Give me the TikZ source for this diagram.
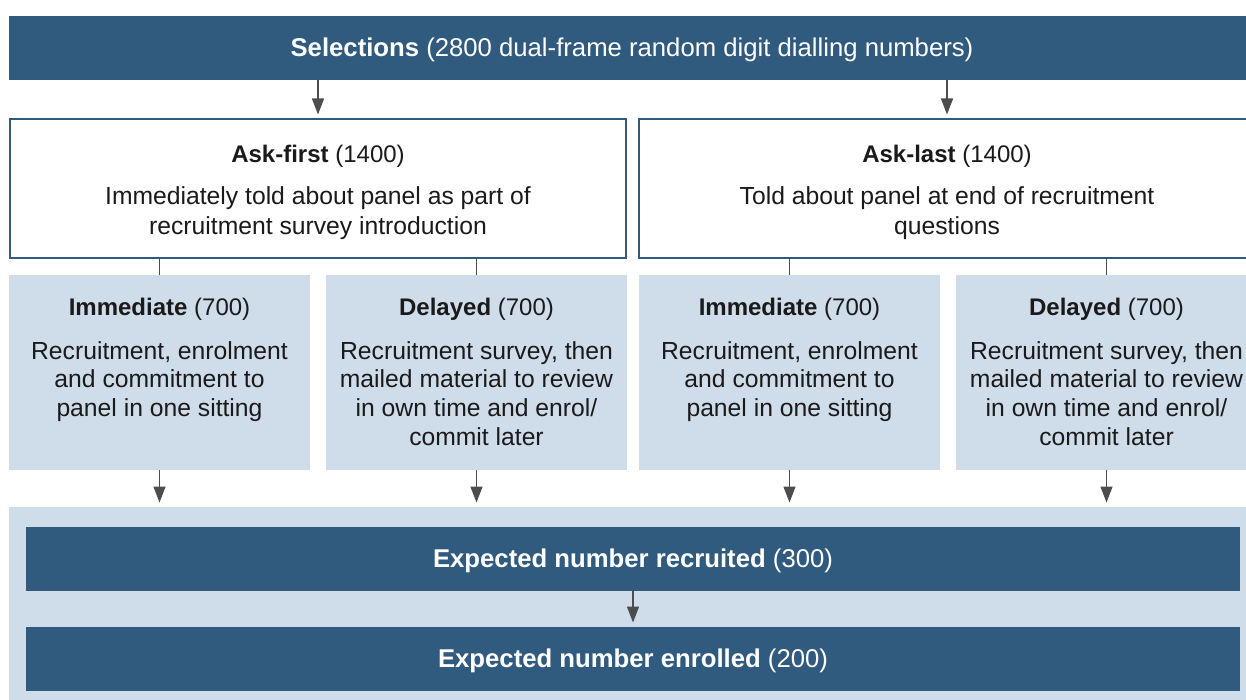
\documentclass[tikz,border=0pt]{standalone}
\usepackage{fontspec}
\setmainfont{Liberation Sans}
\usetikzlibrary{arrows.meta,calc}
\definecolor{dkblue}{HTML}{305A7E}
\definecolor{ltblue}{HTML}{CFDCE9}
\definecolor{arrgray}{HTML}{4D4D4D}
\definecolor{txtcol}{HTML}{1A1A1A}
\tikzset{
  box/.style={anchor=north west, inner sep=0pt, outer sep=0pt},
  darkbar/.style={box, fill=dkblue},
  bartxt/.style={anchor=center, text=white, inner sep=0pt, font=\fontsize{25.7}{30}\selectfont},
  whitebox/.style={box, fill=white, draw=dkblue, line width=2pt},
  lightbox/.style={box, fill=ltblue},
  ttl/.style={anchor=base, align=center, inner sep=0pt, text=txtcol, font=\fontsize{24}{29}\selectfont},
  body/.style={anchor=base, align=center, inner sep=0pt, text=txtcol, font=\fontsize{24.7}{#1}\selectfont},
  conn/.style={draw=arrgray, line width=1.4pt},
  arr/.style={conn, -{Triangle[length=16pt,width=12pt]}, shorten >=4.5pt},
}
\begin{document}
\begin{tikzpicture}[x=1pt,y=-1pt]
\useasboundingbox (0,0) rectangle (1246,700);
\fill[white] (0,0) rectangle (1246,700);
\begin{scope}
\clip (0,0) rectangle (1246,700);
% top bar
\node[darkbar, minimum width=1246pt, minimum height=64pt] (sel) at (9,16) {};
\node[bartxt] (seltxt) at ($(sel.center)+(0,1.5)$) {\textbf{Selections} (2800 dual-frame random digit dialling numbers)};
% ask boxes
\node[whitebox, minimum width=616pt, minimum height=139pt] (af) at (10,119) {};
\node[whitebox, minimum width=616pt, minimum height=139pt] (al) at (639,119) {};
\node[ttl] (aftitle) at ($(af.north)+(0,44)$) {\textbf{Ask-first} (1400)};
\node[body=30] (afbody) at ($(af.north)+(0,116)$) {Immediately told about panel as part of\\recruitment survey introduction};
\node[ttl] (altitle) at ($(al.north)+(0,44)$) {\textbf{Ask-last} (1400)};
\node[body=30] (albody) at ($(al.north)+(0,116)$) {Told about panel at end of recruitment\\questions};
% light boxes
\node[lightbox, minimum width=301pt, minimum height=195pt] (im1) at (9,275) {};
\node[lightbox, minimum width=301pt, minimum height=195pt] (de1) at (326,275) {};
\node[lightbox, minimum width=301pt, minimum height=195pt] (im2) at (639,275) {};
\node[lightbox, minimum width=301pt, minimum height=195pt] (de2) at (956,275) {};
\foreach \b in {im1,im2}{
  \node[ttl] (\b t) at ($(\b.north)+(0,40)$) {\textbf{Immediate} (700)};
  \node[body=28.8] (\b b) at ($(\b.north)+(0,141.6)$) {Recruitment, enrolment\\and commitment to\\panel in one sitting};
}
\foreach \b in {de1,de2}{
  \node[ttl] (\b t) at ($(\b.north)+(0,40)$) {\textbf{Delayed} (700)};
  \node[body=28.8] (\b b) at ($(\b.north)+(0,170.4)$) {Recruitment survey, then\\mailed material to review\\in own time and enrol/\\commit later};
}
% bottom area
\node[lightbox, minimum width=1250pt, minimum height=200pt] (bg) at (9,507) {};
\node[darkbar, minimum width=1214pt, minimum height=64pt] (rec) at (26,527) {};
\node[bartxt] (rectxt) at ($(rec.center)+(0,1.5)$) {\textbf{Expected number recruited} (300)};
\node[darkbar, minimum width=1214pt, minimum height=64pt] (enr) at (26,627) {};
\node[bartxt] (enrtxt) at ($(enr.center)+(0,1.5)$) {\textbf{Expected number enrolled} (200)};
% connectors
\draw[arr] (sel.south -| af.north) -- (af.north);
\draw[arr] (sel.south -| al.north) -- (al.north);
\draw[conn] (af.south -| im1.north) -- (im1.north);
\draw[conn] (af.south -| de1.north) -- (de1.north);
\draw[conn] (al.south -| im2.north) -- (im2.north);
\draw[conn] (al.south -| de2.north) -- (de2.north);
\foreach \b in {im1,de1,im2,de2}{
  \draw[arr] (\b.south) -- (\b.south |- bg.north);
}
\draw[arr] (rec.south) -- (enr.north);
\end{scope}
\end{tikzpicture}
\end{document}
